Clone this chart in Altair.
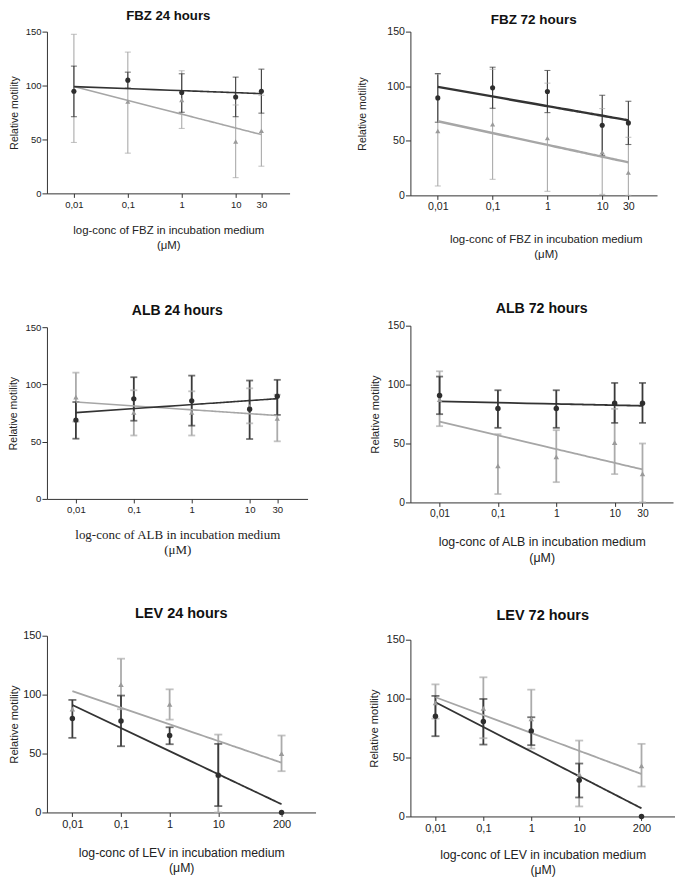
import altair as alt
import pandas as pd

# ---------------- data ----------------
CONC_STD = [0.01, 0.1, 1, 10, 30]
CONC_LEV = [0.01, 0.1, 1, 10, 200]

fbz24_dark_mean = [94.7, 105.0, 93.5, 89.4, 94.7]
fbz24_dark_hi = [118.0, 112.4, 110.9, 107.8, 115.2]
fbz24_dark_lo = [71.1, 97.6, 75.2, 71.1, 74.4]
fbz24_gray_mean = [96.0, 85.1, 86.6, 48.1, 58.1]
fbz24_gray_hi = [147.5, 131.0, 113.7, 82.0, 91.0]
fbz24_gray_lo = [47.2, 37.3, 60.2, 14.6, 25.2]

fbz72_dark_mean = [89.3, 98.5, 95.1, 64.2, 66.4]
fbz72_dark_hi = [111.6, 117.4, 114.4, 91.7, 86.2]
fbz72_dark_lo = [67.0, 79.8, 75.8, 36.7, 46.6]
fbz72_gray_mean = [59.0, 65.1, 52.4, 39.6, 20.8]
fbz72_gray_hi = [111.0, 115.5, 102.8, 79.5, 53.2]
fbz72_gray_lo = [8.6, 14.7, 3.7, 0.9, 0.0]

alb24_dark_mean = [68.9, 87.4, 85.7, 78.3, 89.7]
alb24_dark_hi = [84.6, 106.3, 107.7, 103.4, 104.0]
alb24_dark_lo = [52.6, 68.3, 64.0, 52.3, 73.4]
alb24_gray_mean = [88.9, 75.4, 75.4, 81.0, 70.3]
alb24_gray_hi = [110.3, 94.9, 94.0, 96.6, 91.0]
alb24_gray_lo = [67.5, 55.4, 55.4, 66.0, 50.3]

alb72_dark_mean = [90.7, 79.7, 79.7, 84.2, 84.2]
alb72_dark_hi = [106.8, 95.2, 95.2, 101.4, 101.4]
alb72_dark_lo = [74.9, 63.3, 63.3, 67.5, 67.5]
alb72_gray_mean = [87.3, 31.1, 38.7, 50.8, 24.3]
alb72_gray_hi = [111.3, 57.9, 61.3, 79.4, 50.0]
alb72_gray_lo = [64.7, 7.1, 17.2, 24.0, 0.0]

lev24_dark_mean = [79.7, 77.7, 65.3, 31.6, 0.0]
lev24_dark_hi = [95.5, 99.2, 72.3, 58.2, 0.0]
lev24_dark_lo = [63.3, 56.2, 57.9, 5.4, 0.0]
lev24_gray_mean = [87.6, 108.5, 91.8, 31.6, 50.0]
lev24_gray_hi = [87.6, 130.5, 104.5, 66.1, 65.3]
lev24_gray_lo = [87.6, 87.6, 78.8, 0.0, 35.0]

lev72_dark_mean = [85.0, 80.5, 72.6, 30.8, 0.0]
lev72_dark_hi = [102.3, 99.7, 84.2, 44.9, 0.0]
lev72_dark_lo = [68.1, 61.0, 60.5, 16.1, 0.0]
lev72_gray_mean = [96.3, 91.8, 82.8, 35.9, 42.9]
lev72_gray_hi = [112.1, 118.1, 107.6, 64.4, 61.6]
lev72_gray_lo = [83.0, 66.4, 57.6, 8.5, 25.4]

# ---------------- styles ----------------
SANS = "Liberation Sans"
SERIF = "Liberation Serif"
AX = "#333333"
DARK_PT = "#2e2e2e"
GRAY_PT = "#9a9a9a"
DARK_BAR = "#3a3a3a"
GRAY_BAR = "#ababab"
DARK_LINE = "#333333"
GRAY_LINE = "#a6a6a6"


def make_df(conc, dm, dh, dl, gm, gh, gl):
    rows = []
    for s, m, h, l in (("gray", gm, gh, gl), ("dark", dm, dh, dl)):
        for c, a, b, d in zip(conc, m, h, l):
            rows.append(dict(series=s, x=c, mean=a, hi=b, lo=d))
    return pd.DataFrame(rows)


def panel(df, conc, title, xname, st):
    xdom = [10 ** -2.5, 100] if max(conc) < 100 else [0.003, 1000]
    xscale = alt.Scale(type="log", domain=xdom, nice=False)
    yscale = alt.Scale(domain=[0, 150], nice=False, zero=True)
    xaxis_kw = dict(
        values=conc,
        labelExpr="replace(toString(datum.value), '.', ',')",
        title=[f"log-conc of {xname} in incubation medium", "(\u03bcM)"],
        grid=False, tickSize=4, labelPadding=2,
        labelFontSize=st["lab"], labelFont=SANS, labelColor="#222",
        titleFont=st["xfont"], titleFontSize=st["xt"], titleFontWeight="normal",
        titleColor="#222", titlePadding=st["xpad"], titleLineHeight=st["lh"],
        domainColor=AX, tickColor=AX, labelFlush=False, labelOverlap=False,
    )
    if "xtx" in st:
        xaxis_kw["titleX"] = st["xtx"]
    xaxis = alt.Axis(**xaxis_kw)
    yaxis = alt.Axis(
        values=[0, 50, 100, 150], title="Relative motility", grid=False,
        tickSize=5, labelPadding=1, labelFontSize=st["lab"], labelFont=SANS,
        labelColor="#222", titleFont=SANS, titleFontSize=st["yt"],
        titleFontWeight="normal", titleColor="#222", titlePadding=st["ypad"],
        domainColor=AX, tickColor=AX,
    )
    X = alt.X("x:Q", scale=xscale, axis=xaxis)
    is_dark = "datum.series == 'dark'"
    bar_col = alt.condition(is_dark, alt.value(DARK_BAR), alt.value(GRAY_BAR))
    line_col = alt.condition(is_dark, alt.value(DARK_LINE), alt.value(GRAY_LINE))
    pt_col = alt.condition(is_dark, alt.value(DARK_PT), alt.value(GRAY_PT))

    base = alt.Chart(df)
    eb = base.transform_filter("datum.hi > datum.lo")
    bars = eb.mark_rule(strokeWidth=st["bw"]).encode(
        x=X, y=alt.Y("lo:Q", scale=yscale, axis=yaxis), y2="hi:Q", color=bar_col)
    cap_hi = eb.mark_tick(orient="horizontal", size=st["cap"], thickness=st["bw"]).encode(
        x=X, y=alt.Y("hi:Q", scale=yscale, axis=yaxis), color=bar_col)
    cap_lo = eb.mark_tick(orient="horizontal", size=st["cap"], thickness=st["bw"]).encode(
        x=X, y=alt.Y("lo:Q", scale=yscale, axis=yaxis), color=bar_col)
    lines = base.transform_regression(
        "x", "mean", method="log", extent=[min(conc), max(conc)], groupby=["series"]
    ).mark_line(strokeWidth=st["lw"]).encode(
        x=X, y=alt.Y("mean:Q", scale=yscale, axis=yaxis), color=line_col,
        detail="series:N", order="x:Q")
    pts = base.mark_point(filled=True, size=st["pt"], opacity=1).encode(
        x=X, y=alt.Y("mean:Q", scale=yscale, axis=yaxis),
        shape=alt.condition(is_dark, alt.value("circle"), alt.value("triangle-up")),
        color=pt_col)
    return alt.layer(bars, cap_hi, cap_lo, lines, pts).properties(
        width=st["w"], height=st["h"],
        title=alt.TitleParams(text=title, font=SANS, fontSize=st["t"], fontWeight="bold",
                              anchor="middle", frame="group", offset=st["toff"], color="#111"),
    )


S_FBZ24 = dict(w=243, h=162, lab=9.5, yt=10.5, ypad=6, xt=11.4, xfont=SANS, xpad=16, lh=15,
               t=13.2, toff=3, bw=1.1, cap=6, lw=1.6, pt=26)
S_ALB24 = dict(w=261, h=172, lab=9.6, yt=10.5, ypad=6, xt=13, xfont=SERIF, xpad=14, lh=15,
               t=14, toff=4, bw=1.8, cap=7, lw=1.6, pt=28)
S_LEV24 = dict(w=269, h=177, lab=11, yt=11.2, ypad=3, xt=12.3, xfont=SANS, xpad=17.5, lh=15,
               t=14.5, toff=8.5, bw=1.8, cap=8, lw=1.8, pt=30)
S_FBZ72 = dict(w=247, h=164, lab=10.6, yt=10.5, ypad=19, xt=11.5, xfont=SANS, xpad=22, lh=15,
               t=13.5, toff=0, bw=1.1, cap=6, lw=2.4, pt=26, xtx=135.5)
S_ALB72 = dict(w=263, h=177, lab=10.3, yt=11.2, ypad=7, xt=12.4, xfont=SANS, xpad=16.5, lh=16,
               t=14.2, toff=4, bw=1.8, cap=7, lw=1.8, pt=30)
S_LEV72 = dict(w=265, h=177, lab=11, yt=11.2, ypad=7, xt=12.3, xfont=SANS, xpad=15, lh=15,
               t=14.5, toff=10, bw=1.8, cap=8, lw=1.8, pt=30)

p_fbz24 = panel(make_df(CONC_STD, fbz24_dark_mean, fbz24_dark_hi, fbz24_dark_lo,
                        fbz24_gray_mean, fbz24_gray_hi, fbz24_gray_lo),
                CONC_STD, "FBZ 24 hours", "FBZ", S_FBZ24)
p_fbz72 = panel(make_df(CONC_STD, fbz72_dark_mean, fbz72_dark_hi, fbz72_dark_lo,
                        fbz72_gray_mean, fbz72_gray_hi, fbz72_gray_lo),
                CONC_STD, "FBZ 72 hours", "FBZ", S_FBZ72)
p_alb24 = panel(make_df(CONC_STD, alb24_dark_mean, alb24_dark_hi, alb24_dark_lo,
                        alb24_gray_mean, alb24_gray_hi, alb24_gray_lo),
                CONC_STD, "ALB 24 hours", "ALB", S_ALB24)
p_alb72 = panel(make_df(CONC_STD, alb72_dark_mean, alb72_dark_hi, alb72_dark_lo,
                        alb72_gray_mean, alb72_gray_hi, alb72_gray_lo),
                CONC_STD, "ALB 72 hours", "ALB", S_ALB72)
p_lev24 = panel(make_df(CONC_LEV, lev24_dark_mean, lev24_dark_hi, lev24_dark_lo,
                        lev24_gray_mean, lev24_gray_hi, lev24_gray_lo),
                CONC_LEV, "LEV 24 hours", "LEV", S_LEV24)
p_lev72 = panel(make_df(CONC_LEV, lev72_dark_mean, lev72_dark_hi, lev72_dark_lo,
                        lev72_gray_mean, lev72_gray_hi, lev72_gray_lo),
                CONC_LEV, "LEV 72 hours", "LEV", S_LEV72)

left = alt.vconcat(alt.vconcat(p_fbz24, p_alb24, spacing=53), p_lev24, spacing=49)
right = alt.vconcat(alt.vconcat(p_fbz72, p_alb72, spacing=40.5), p_lev72, spacing=44)

chart = alt.hconcat(left, right, spacing=42).properties(
    padding={"left": 0, "top": 0, "right": 0, "bottom": 0}
).configure(background="white", view=alt.ViewConfig(stroke=None))

chart.save("out.html", embed_options={"renderer": "svg", "actions": False})
